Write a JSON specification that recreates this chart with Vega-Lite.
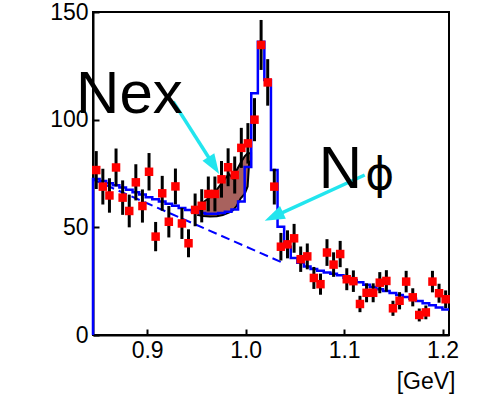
{
  "$schema": "https://vega.github.io/schema/vega-lite/v6.json",
  "width": 356,
  "height": 323,
  "autosize": {"type": "none"},
  "padding": {"left": 93, "top": 12, "right": 33, "bottom": 60},
  "background": "white",
  "config": {
    "view": {"stroke": "black", "strokeWidth": 2},
    "font": "Liberation Sans"
  },
  "datasets": {
    "pts": [
      {"x": 0.8483, "y": 76.6, "lo": 67.8, "hi": 85.4},
      {"x": 0.8550, "y": 68.9, "lo": 60.6, "hi": 77.2},
      {"x": 0.8617, "y": 64.8, "lo": 56.8, "hi": 72.8},
      {"x": 0.8684, "y": 77.8, "lo": 69.0, "hi": 86.6},
      {"x": 0.8751, "y": 63.8, "lo": 55.8, "hi": 71.8},
      {"x": 0.8818, "y": 57.6, "lo": 50.0, "hi": 65.2},
      {"x": 0.8885, "y": 70.9, "lo": 62.5, "hi": 79.3},
      {"x": 0.8952, "y": 59.9, "lo": 52.2, "hi": 67.6},
      {"x": 0.9019, "y": 75.8, "lo": 67.1, "hi": 84.5},
      {"x": 0.9086, "y": 45.7, "lo": 38.9, "hi": 52.5},
      {"x": 0.9153, "y": 65.8, "lo": 57.7, "hi": 73.9},
      {"x": 0.9220, "y": 52.6, "lo": 45.3, "hi": 59.9},
      {"x": 0.9287, "y": 69.0, "lo": 60.7, "hi": 77.3},
      {"x": 0.9353, "y": 51.8, "lo": 44.6, "hi": 59.0},
      {"x": 0.9420, "y": 42.6, "lo": 36.1, "hi": 49.1},
      {"x": 0.9487, "y": 58.1, "lo": 50.5, "hi": 65.7},
      {"x": 0.9554, "y": 60.0, "lo": 52.3, "hi": 67.7},
      {"x": 0.9621, "y": 65.5, "lo": 57.4, "hi": 73.6},
      {"x": 0.9688, "y": 65.5, "lo": 57.4, "hi": 73.6},
      {"x": 0.9755, "y": 72.3, "lo": 63.8, "hi": 80.8},
      {"x": 0.9822, "y": 77.9, "lo": 69.1, "hi": 86.7},
      {"x": 0.9889, "y": 74.3, "lo": 65.7, "hi": 82.9},
      {"x": 0.9956, "y": 86.9, "lo": 77.6, "hi": 96.2},
      {"x": 1.0023, "y": 89.0, "lo": 79.6, "hi": 98.4},
      {"x": 1.0090, "y": 100.0, "lo": 90.0, "hi": 110.0},
      {"x": 1.0157, "y": 134.7, "lo": 123.1, "hi": 146.3},
      {"x": 1.0224, "y": 117.3, "lo": 106.5, "hi": 128.1},
      {"x": 1.0291, "y": 68.9, "lo": 60.6, "hi": 77.2},
      {"x": 1.0358, "y": 41.0, "lo": 34.6, "hi": 47.4},
      {"x": 1.0425, "y": 42.1, "lo": 35.6, "hi": 48.6},
      {"x": 1.0492, "y": 44.9, "lo": 38.2, "hi": 51.6},
      {"x": 1.0559, "y": 35.2, "lo": 29.3, "hi": 41.1},
      {"x": 1.0626, "y": 36.5, "lo": 30.5, "hi": 42.5},
      {"x": 1.0693, "y": 26.5, "lo": 21.4, "hi": 31.6},
      {"x": 1.0760, "y": 23.6, "lo": 18.7, "hi": 28.5},
      {"x": 1.0826, "y": 38.3, "lo": 32.1, "hi": 44.5},
      {"x": 1.0893, "y": 32.7, "lo": 27.0, "hi": 38.4},
      {"x": 1.0960, "y": 37.6, "lo": 31.5, "hi": 43.7},
      {"x": 1.1027, "y": 25.9, "lo": 20.8, "hi": 31.0},
      {"x": 1.1094, "y": 25.0, "lo": 20.0, "hi": 30.0},
      {"x": 1.1161, "y": 14.4, "lo": 10.6, "hi": 18.2},
      {"x": 1.1228, "y": 19.6, "lo": 15.2, "hi": 24.0},
      {"x": 1.1295, "y": 19.6, "lo": 15.2, "hi": 24.0},
      {"x": 1.1362, "y": 24.3, "lo": 19.4, "hi": 29.2},
      {"x": 1.1429, "y": 25.1, "lo": 20.1, "hi": 30.1},
      {"x": 1.1496, "y": 12.4, "lo": 8.9, "hi": 15.9},
      {"x": 1.1563, "y": 15.9, "lo": 11.9, "hi": 19.9},
      {"x": 1.1630, "y": 24.8, "lo": 19.8, "hi": 29.8},
      {"x": 1.1697, "y": 17.5, "lo": 13.3, "hi": 21.7},
      {"x": 1.1763, "y": 9.3, "lo": 6.3, "hi": 12.3},
      {"x": 1.1830, "y": 10.5, "lo": 7.3, "hi": 13.7},
      {"x": 1.1897, "y": 24.8, "lo": 19.8, "hi": 29.8},
      {"x": 1.1964, "y": 19.4, "lo": 15.0, "hi": 23.8},
      {"x": 1.2031, "y": 16.6, "lo": 12.5, "hi": 20.7}
    ],
    "fit": [
      {"x": 0.8450, "y": 0},
      {"x": 0.8450, "y": 72.5},
      {"x": 0.8517, "y": 71.5},
      {"x": 0.8584, "y": 70.5},
      {"x": 0.8651, "y": 69.5},
      {"x": 0.8718, "y": 68.5},
      {"x": 0.8785, "y": 67.5},
      {"x": 0.8852, "y": 66.3},
      {"x": 0.8919, "y": 65.2},
      {"x": 0.8986, "y": 64.0},
      {"x": 0.9052, "y": 63.0},
      {"x": 0.9119, "y": 62.0},
      {"x": 0.9186, "y": 61.0},
      {"x": 0.9253, "y": 60.0},
      {"x": 0.9320, "y": 59.0},
      {"x": 0.9387, "y": 58.0},
      {"x": 0.9454, "y": 57.2},
      {"x": 0.9521, "y": 56.6},
      {"x": 0.9588, "y": 56.3},
      {"x": 0.9655, "y": 56.3},
      {"x": 0.9722, "y": 56.6},
      {"x": 0.9789, "y": 57.2},
      {"x": 0.9856, "y": 58.3},
      {"x": 0.9923, "y": 62.0},
      {"x": 0.9990, "y": 78.0},
      {"x": 1.0057, "y": 112.3},
      {"x": 1.0124, "y": 136.2},
      {"x": 1.0190, "y": 118.4},
      {"x": 1.0257, "y": 76.6},
      {"x": 1.0324, "y": 50.3},
      {"x": 1.0391, "y": 41.0},
      {"x": 1.0458, "y": 35.8},
      {"x": 1.0525, "y": 33.5},
      {"x": 1.0592, "y": 31.8},
      {"x": 1.0659, "y": 30.6},
      {"x": 1.0726, "y": 29.8},
      {"x": 1.0793, "y": 29.0},
      {"x": 1.0860, "y": 28.4},
      {"x": 1.0927, "y": 27.7},
      {"x": 1.0994, "y": 26.6},
      {"x": 1.1061, "y": 25.6},
      {"x": 1.1128, "y": 24.5},
      {"x": 1.1195, "y": 23.3},
      {"x": 1.1261, "y": 22.3},
      {"x": 1.1328, "y": 21.3},
      {"x": 1.1395, "y": 20.4},
      {"x": 1.1462, "y": 19.5},
      {"x": 1.1529, "y": 18.6},
      {"x": 1.1596, "y": 17.7},
      {"x": 1.1663, "y": 16.8},
      {"x": 1.1730, "y": 15.8},
      {"x": 1.1797, "y": 14.8},
      {"x": 1.1864, "y": 13.8},
      {"x": 1.1931, "y": 12.8},
      {"x": 1.1998, "y": 11.8},
      {"x": 1.2065, "y": 11.8}
    ],
    "bg": [
      {"x": 0.845, "y": 72.2},
      {"x": 1.037, "y": 33.7}
    ],
    "nex": [
      {"x": 0.9518, "lo": 55.7, "hi": 55.7},
      {"x": 0.9566, "lo": 55.3, "hi": 61.5},
      {"x": 0.9637, "lo": 55.0, "hi": 64.0},
      {"x": 0.9708, "lo": 55.2, "hi": 67.5},
      {"x": 0.9768, "lo": 55.7, "hi": 71.2},
      {"x": 0.9829, "lo": 56.8, "hi": 74.8},
      {"x": 0.9869, "lo": 57.8, "hi": 72.8},
      {"x": 0.9910, "lo": 60.0, "hi": 76.6},
      {"x": 0.9950, "lo": 63.5, "hi": 80.0},
      {"x": 0.9990, "lo": 65.5, "hi": 83.0},
      {"x": 1.0020, "lo": 69.0, "hi": 84.4},
      {"x": 1.0035, "lo": 79.7, "hi": 84.4},
      {"x": 1.0055, "lo": 81.3, "hi": 84.4}
    ],
    "arrows": [
      {"x": 0.9264, "y": 108.4, "x2": 0.9688, "y2": 77.9},
      {"x": 1.1209, "y": 74.3, "x2": 1.0268, "y2": 54.6}
    ],
    "heads": [
      {"x": 0.9731, "y": 74.8, "a": 147.5},
      {"x": 1.0194, "y": 53.1, "a": 245.4}
    ]
  },
  "layer": [
    {
      "data": {"name": "nex"},
      "mark": {"type": "area", "fill": "#a8625e", "stroke": "black", "strokeWidth": 2, "interpolate": "linear"},
      "encoding": {
        "x": {
          "field": "x", "type": "quantitative",
          "scale": {"domain": [0.845, 1.2065], "nice": false, "zero": false},
          "axis": {
            "values": [0.9, 1.0, 1.1, 1.2], "format": ".1f",
            "grid": false, "domainColor": "black", "domainWidth": 2,
            "tickColor": "black", "tickWidth": 2, "tickSize": -6,
            "labelFontSize": 23, "labelColor": "black", "labelPadding": 10,
            "labelFont": "Liberation Sans",
            "title": "[GeV]", "titleFontSize": 23, "titleFontWeight": "normal",
            "titleColor": "black", "titleFont": "Liberation Sans",
            "titleAnchor": "end", "titleAlign": "right", "titleBaseline": "alphabetic",
            "titleX": 362, "titleY": 53
          }
        },
        "y": {
          "field": "lo", "type": "quantitative",
          "scale": {"domain": [0, 150], "nice": false, "zero": true},
          "axis": {
            "values": [0, 50, 100, 150],
            "grid": false, "domainColor": "black", "domainWidth": 2,
            "tickColor": "black", "tickWidth": 2, "tickSize": -6,
            "labelFontSize": 23, "labelColor": "black", "labelPadding": 11,
            "labelFont": "Liberation Sans",
            "title": null
          }
        },
        "y2": {"field": "hi"}
      }
    },
    {
      "data": {"name": "bg"},
      "mark": {"type": "line", "color": "#0000ff", "strokeWidth": 2, "strokeDash": [9, 5]},
      "encoding": {
        "x": {"field": "x", "type": "quantitative"},
        "y": {"field": "y", "type": "quantitative"}
      }
    },
    {
      "data": {"name": "fit"},
      "mark": {"type": "line", "color": "#0000ff", "strokeWidth": 2.5, "interpolate": "step-after"},
      "encoding": {
        "x": {"field": "x", "type": "quantitative"},
        "y": {"field": "y", "type": "quantitative"}
      }
    },
    {
      "data": {"name": "pts"},
      "mark": {"type": "rule", "color": "black", "strokeWidth": 3},
      "encoding": {
        "x": {"field": "x", "type": "quantitative"},
        "y": {"field": "lo", "type": "quantitative"},
        "y2": {"field": "hi"}
      }
    },
    {
      "data": {"name": "pts"},
      "mark": {"type": "square", "color": "#ff0000", "opacity": 1, "size": 72, "filled": true},
      "encoding": {
        "x": {"field": "x", "type": "quantitative"},
        "y": {"field": "y", "type": "quantitative"}
      }
    },
    {
      "data": {"name": "arrows"},
      "mark": {"type": "rule", "color": "#22e5ee", "strokeWidth": 3.5},
      "encoding": {
        "x": {"field": "x", "type": "quantitative"},
        "y": {"field": "y", "type": "quantitative"},
        "x2": {"field": "x2"},
        "y2": {"field": "y2"}
      }
    },
    {
      "data": {"name": "heads"},
      "mark": {"type": "point", "shape": "M0,0L0.7,2L-0.7,2Z", "filled": true, "color": "#22e5ee", "opacity": 1, "size": 400},
      "encoding": {
        "x": {"field": "x", "type": "quantitative"},
        "y": {"field": "y", "type": "quantitative"},
        "angle": {"field": "a", "type": "quantitative", "scale": null}
      }
    },
    {
      "data": {"values": [{"x": 0.8278, "y": 103.1, "t": "Nex"}, {"x": 1.0742, "y": 68.3, "t": "N"}]},
      "mark": {"type": "text", "align": "left", "baseline": "alphabetic", "fontSize": 60, "font": "Liberation Sans", "color": "black", "clip": false},
      "encoding": {
        "x": {"field": "x", "type": "quantitative"},
        "y": {"field": "y", "type": "quantitative"},
        "text": {"field": "t"}
      }
    },
    {
      "data": {"values": [{"x": 1.1361, "y": 67.8, "t": "ϕ"}]},
      "mark": {"type": "text", "align": "center", "baseline": "alphabetic", "fontSize": 44, "font": "DejaVu Sans", "color": "black"},
      "encoding": {
        "x": {"field": "x", "type": "quantitative"},
        "y": {"field": "y", "type": "quantitative"},
        "text": {"field": "t"}
      }
    }
  ]
}
